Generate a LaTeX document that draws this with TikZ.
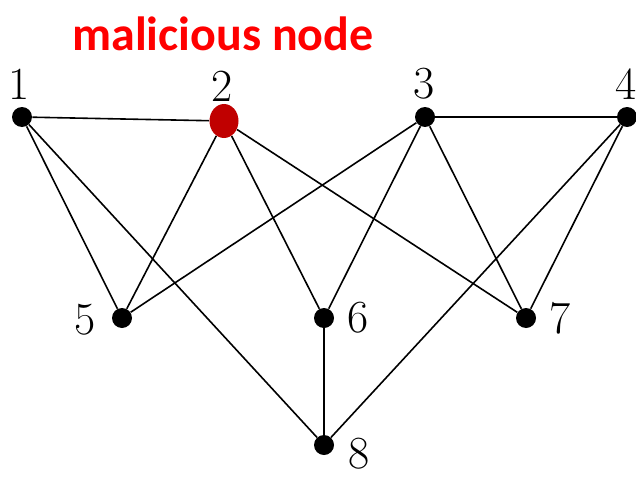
\documentclass[tikz,border=0pt]{standalone}
\usepackage{fontspec}
\newfontfamily\calib{Carlito}
\usetikzlibrary{shapes.geometric}
\definecolor{maldark}{RGB}{192,0,0}

\begin{document}
\begin{tikzpicture}[x=0.5pt, y=-0.5pt,
  vtx/.style={circle, fill=black, inner sep=0pt, minimum size=10pt},
  num/.style={font=\fontsize{23}{23}\selectfont, inner sep=0pt},
  edge/.style={line width=0.8pt}]
\useasboundingbox (0,0) rectangle (636,476);
% Title
\node[text=red, font=\calib\bfseries\fontsize{24}{24}\selectfont, anchor=base] (title) at (223,51) {malicious node};
% Vertices
\node[vtx] (v1) at (22,117) {};
\node[ellipse, fill=maldark, inner sep=0pt, minimum width=14.5pt, minimum height=17pt] (v2) at (224,121) {};
\node[vtx] (v3) at (425,117) {};
\node[vtx] (v4) at (627,117) {};
\node[vtx] (v5) at (122,318) {};
\node[vtx] (v6) at (324,318) {};
\node[vtx] (v7) at (526,318) {};
\node[vtx] (v8) at (324,445) {};
% Vertex labels
\node[num] (l1) at (19,84) {1};
\node[num] (l2) at (222,86) {2};
\node[num] (l3) at (424,84) {3};
\node[num] (l4) at (626,84) {4};
\node[num] (l5) at (85,320) {5};
\node[num] (l6) at (358,318) {6};
\node[num] (l7) at (560,318) {7};
\node[num] (l8) at (359,454) {8};
% Edges
\draw[edge] (v1) -- (v2);
\draw[edge] (v3) -- (v4);
\draw[edge] (v1) -- (v5);
\draw[edge] (v1) -- (v8);
\draw[edge] (v2) -- (v5);
\draw[edge] (v2) -- (v6);
\draw[edge] (v2) -- (v7);
\draw[edge] (v3) -- (v5);
\draw[edge] (v3) -- (v6);
\draw[edge] (v3) -- (v7);
\draw[edge] (v4) -- (v7);
\draw[edge] (v4) -- (v8);
\draw[edge] (v6) -- (v8);
\end{tikzpicture}
\end{document}
